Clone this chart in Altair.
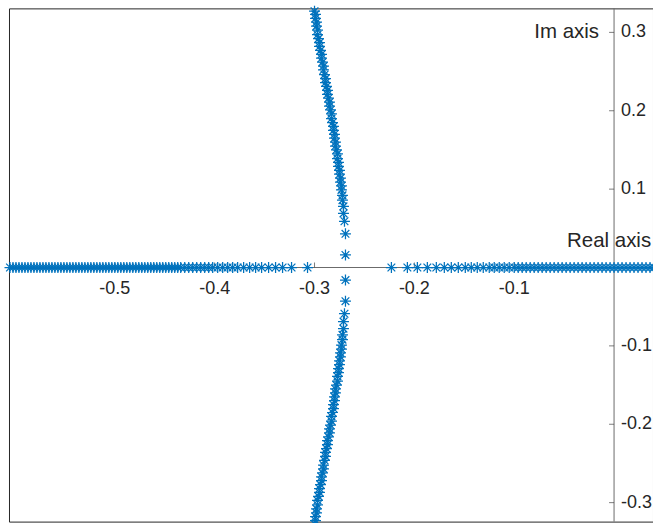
import altair as alt
import pandas as pd

# Root-locus branches (real part, imaginary part)
# Real-axis branch running left from about -0.31
left_real = [-0.307, -0.323, -0.332, -0.339, -0.346, -0.353, -0.359, -0.365, -0.371, -0.377,
             -0.382, -0.387, -0.392, -0.397, -0.402, -0.406, -0.410, -0.414, -0.418, -0.422,
             -0.426, -0.430, -0.434, -0.437, -0.440, -0.443, -0.446, -0.449, -0.452, -0.455,
             -0.458, -0.461, -0.464, -0.467, -0.470, -0.473, -0.476, -0.479, -0.482, -0.485,
             -0.488, -0.491, -0.494, -0.497, -0.500, -0.503, -0.506, -0.509, -0.512, -0.515,
             -0.518, -0.521, -0.524, -0.527, -0.530, -0.533, -0.536, -0.539, -0.542, -0.545,
             -0.548, -0.551, -0.554, -0.557, -0.560, -0.563, -0.566, -0.569, -0.572, -0.575,
             -0.578, -0.581, -0.584, -0.587, -0.590, -0.593, -0.596, -0.599, -0.602, -0.605]

# Real-axis branch running right from about -0.22
right_real = [-0.223, -0.207, -0.197, -0.187, -0.178, -0.170, -0.163, -0.156, -0.149, -0.143,
              -0.137, -0.131, -0.125, -0.120, -0.115, -0.110, -0.105, -0.100, -0.096, -0.092,
              -0.088, -0.084, -0.080, -0.076, -0.072, -0.068, -0.064, -0.060, -0.056, -0.052,
              -0.048, -0.044, -0.040, -0.036, -0.032, -0.028, -0.024, -0.020, -0.016, -0.012,
              -0.008, -0.004, 0.000, 0.004, 0.008, 0.012, 0.016, 0.020, 0.024, 0.028,
              0.032, 0.036, 0.040]

# Complex branch leaving the breakaway point (upper half; lower half is its conjugate)
branch_re = [-0.269, -0.269, -0.270, -0.271, -0.271, -0.272, -0.272, -0.273, -0.273, -0.274,
             -0.274, -0.275, -0.275, -0.276, -0.276, -0.277, -0.277, -0.278, -0.279, -0.279,
             -0.280, -0.280, -0.281, -0.281, -0.282, -0.283, -0.283, -0.284, -0.285, -0.285,
             -0.286, -0.287, -0.287, -0.288, -0.289, -0.289, -0.290, -0.291, -0.291, -0.292,
             -0.293, -0.293, -0.294, -0.295, -0.295, -0.296, -0.297, -0.297, -0.298, -0.298,
             -0.299, -0.299, -0.300]
branch_im = [0.016, 0.043, 0.059, 0.069, 0.078, 0.086, 0.092, 0.099, 0.104, 0.109,
             0.114, 0.119, 0.124, 0.129, 0.134, 0.139, 0.145, 0.150, 0.155, 0.160,
             0.165, 0.170, 0.175, 0.180, 0.185, 0.190, 0.196, 0.201, 0.206, 0.211,
             0.216, 0.221, 0.226, 0.231, 0.236, 0.241, 0.246, 0.252, 0.257, 0.262,
             0.267, 0.272, 0.277, 0.282, 0.287, 0.292, 0.297, 0.303, 0.308, 0.313,
             0.318, 0.323, 0.327]

x_ticks = [-0.5, -0.4, -0.3, -0.2, -0.1]
x_tick_labels = ["-0.5", "-0.4", "-0.3", "-0.2", "-0.1"]
y_ticks = [0.3, 0.2, 0.1, -0.1, -0.2, -0.3]
y_tick_labels = ["0.3", "0.2", "0.1", "-0.1", "-0.2", "-0.3"]

x_domain = [-0.606, 0.039]
y_domain = [-0.3242, 0.3306]

FONT = "Liberation Sans"
TEXT_COLOR = "#262626"
BLUE = "#0072BD"
STAR = "M0,-1L0,1M-1,0L1,0M-0.7,-0.7L0.7,0.7M-0.7,0.7L0.7,-0.7"

re_all = left_real + right_real + branch_re + branch_re
im_all = [0.0] * (len(left_real) + len(right_real)) + branch_im + [-v for v in branch_im]
roots = pd.DataFrame({"re": re_all, "im": im_all})

xt = pd.DataFrame({"v": x_ticks, "label": x_tick_labels, "zero": 0.0})
yt = pd.DataFrame({"v": y_ticks, "label": y_tick_labels, "zero": 0.0})
origin = pd.DataFrame({"zero": [0.0], "top": [y_ticks[0]]})

xs = alt.Scale(domain=x_domain, nice=False, zero=False)
ys = alt.Scale(domain=y_domain, nice=False, zero=False)

# Axis lines crossing at the origin
x_line = alt.Chart(origin).mark_rule(color="#6a6a6a", strokeWidth=1).encode(
    y=alt.Y("zero:Q", scale=ys, axis=None)
)
y_line = alt.Chart(origin).mark_rule(color="#6a6a6a", strokeWidth=1).encode(
    x=alt.X("zero:Q", scale=xs, axis=None)
)

x_tick_marks = alt.Chart(xt).mark_tick(
    orient="vertical", size=5, thickness=1, color="#444444", yOffset=-2.5
).encode(x=alt.X("v:Q", scale=xs, axis=None), y=alt.Y("zero:Q", scale=ys, axis=None))

y_tick_marks = alt.Chart(yt).mark_tick(
    orient="horizontal", size=5, thickness=1, color="#444444", xOffset=-2.5
).encode(x=alt.X("zero:Q", scale=xs, axis=None), y=alt.Y("v:Q", scale=ys, axis=None))

x_tick_text = alt.Chart(xt).mark_text(
    font=FONT, fontSize=18, color=TEXT_COLOR, align="center", baseline="middle", dy=22
).encode(x=alt.X("v:Q", scale=xs, axis=None), y=alt.Y("zero:Q", scale=ys, axis=None), text="label:N")

y_tick_text = alt.Chart(yt).mark_text(
    font=FONT, fontSize=18, color=TEXT_COLOR, align="left", baseline="middle", dx=7
).encode(x=alt.X("zero:Q", scale=xs, axis=None), y=alt.Y("v:Q", scale=ys, axis=None), text="label:N")

im_title = alt.Chart(origin).mark_text(
    font=FONT, fontSize=20.5, color=TEXT_COLOR, align="right", baseline="middle", dx=-15, text="Im axis"
).encode(x=alt.X("zero:Q", scale=xs, axis=None), y=alt.Y("top:Q", scale=ys, axis=None))

re_title = alt.Chart(origin).mark_text(
    font=FONT, fontSize=20.5, color=TEXT_COLOR, align="center", baseline="alphabetic", dx=-5, dy=-21,
    text="Real axis"
).encode(x=alt.X("zero:Q", scale=xs, axis=None), y=alt.Y("zero:Q", scale=ys, axis=None))

stars = alt.Chart(roots).mark_point(
    shape=STAR, filled=False, stroke=BLUE, strokeWidth=1.25, size=121, opacity=1
).encode(x=alt.X("re:Q", scale=xs, axis=None), y=alt.Y("im:Q", scale=ys, axis=None))

chart = alt.layer(
    x_line, y_line, x_tick_marks, y_tick_marks, x_tick_text, y_tick_text, im_title, re_title, stars
).properties(
    width=645, height=514,
    padding={"left": 9, "top": 8, "right": 0, "bottom": 1},
    autosize=alt.AutoSizeParams(type="none"),
    background="white",
).configure_view(stroke="#262626", strokeWidth=1)

chart.save("out.html", embed_options={"renderer": "svg", "actions": False})
